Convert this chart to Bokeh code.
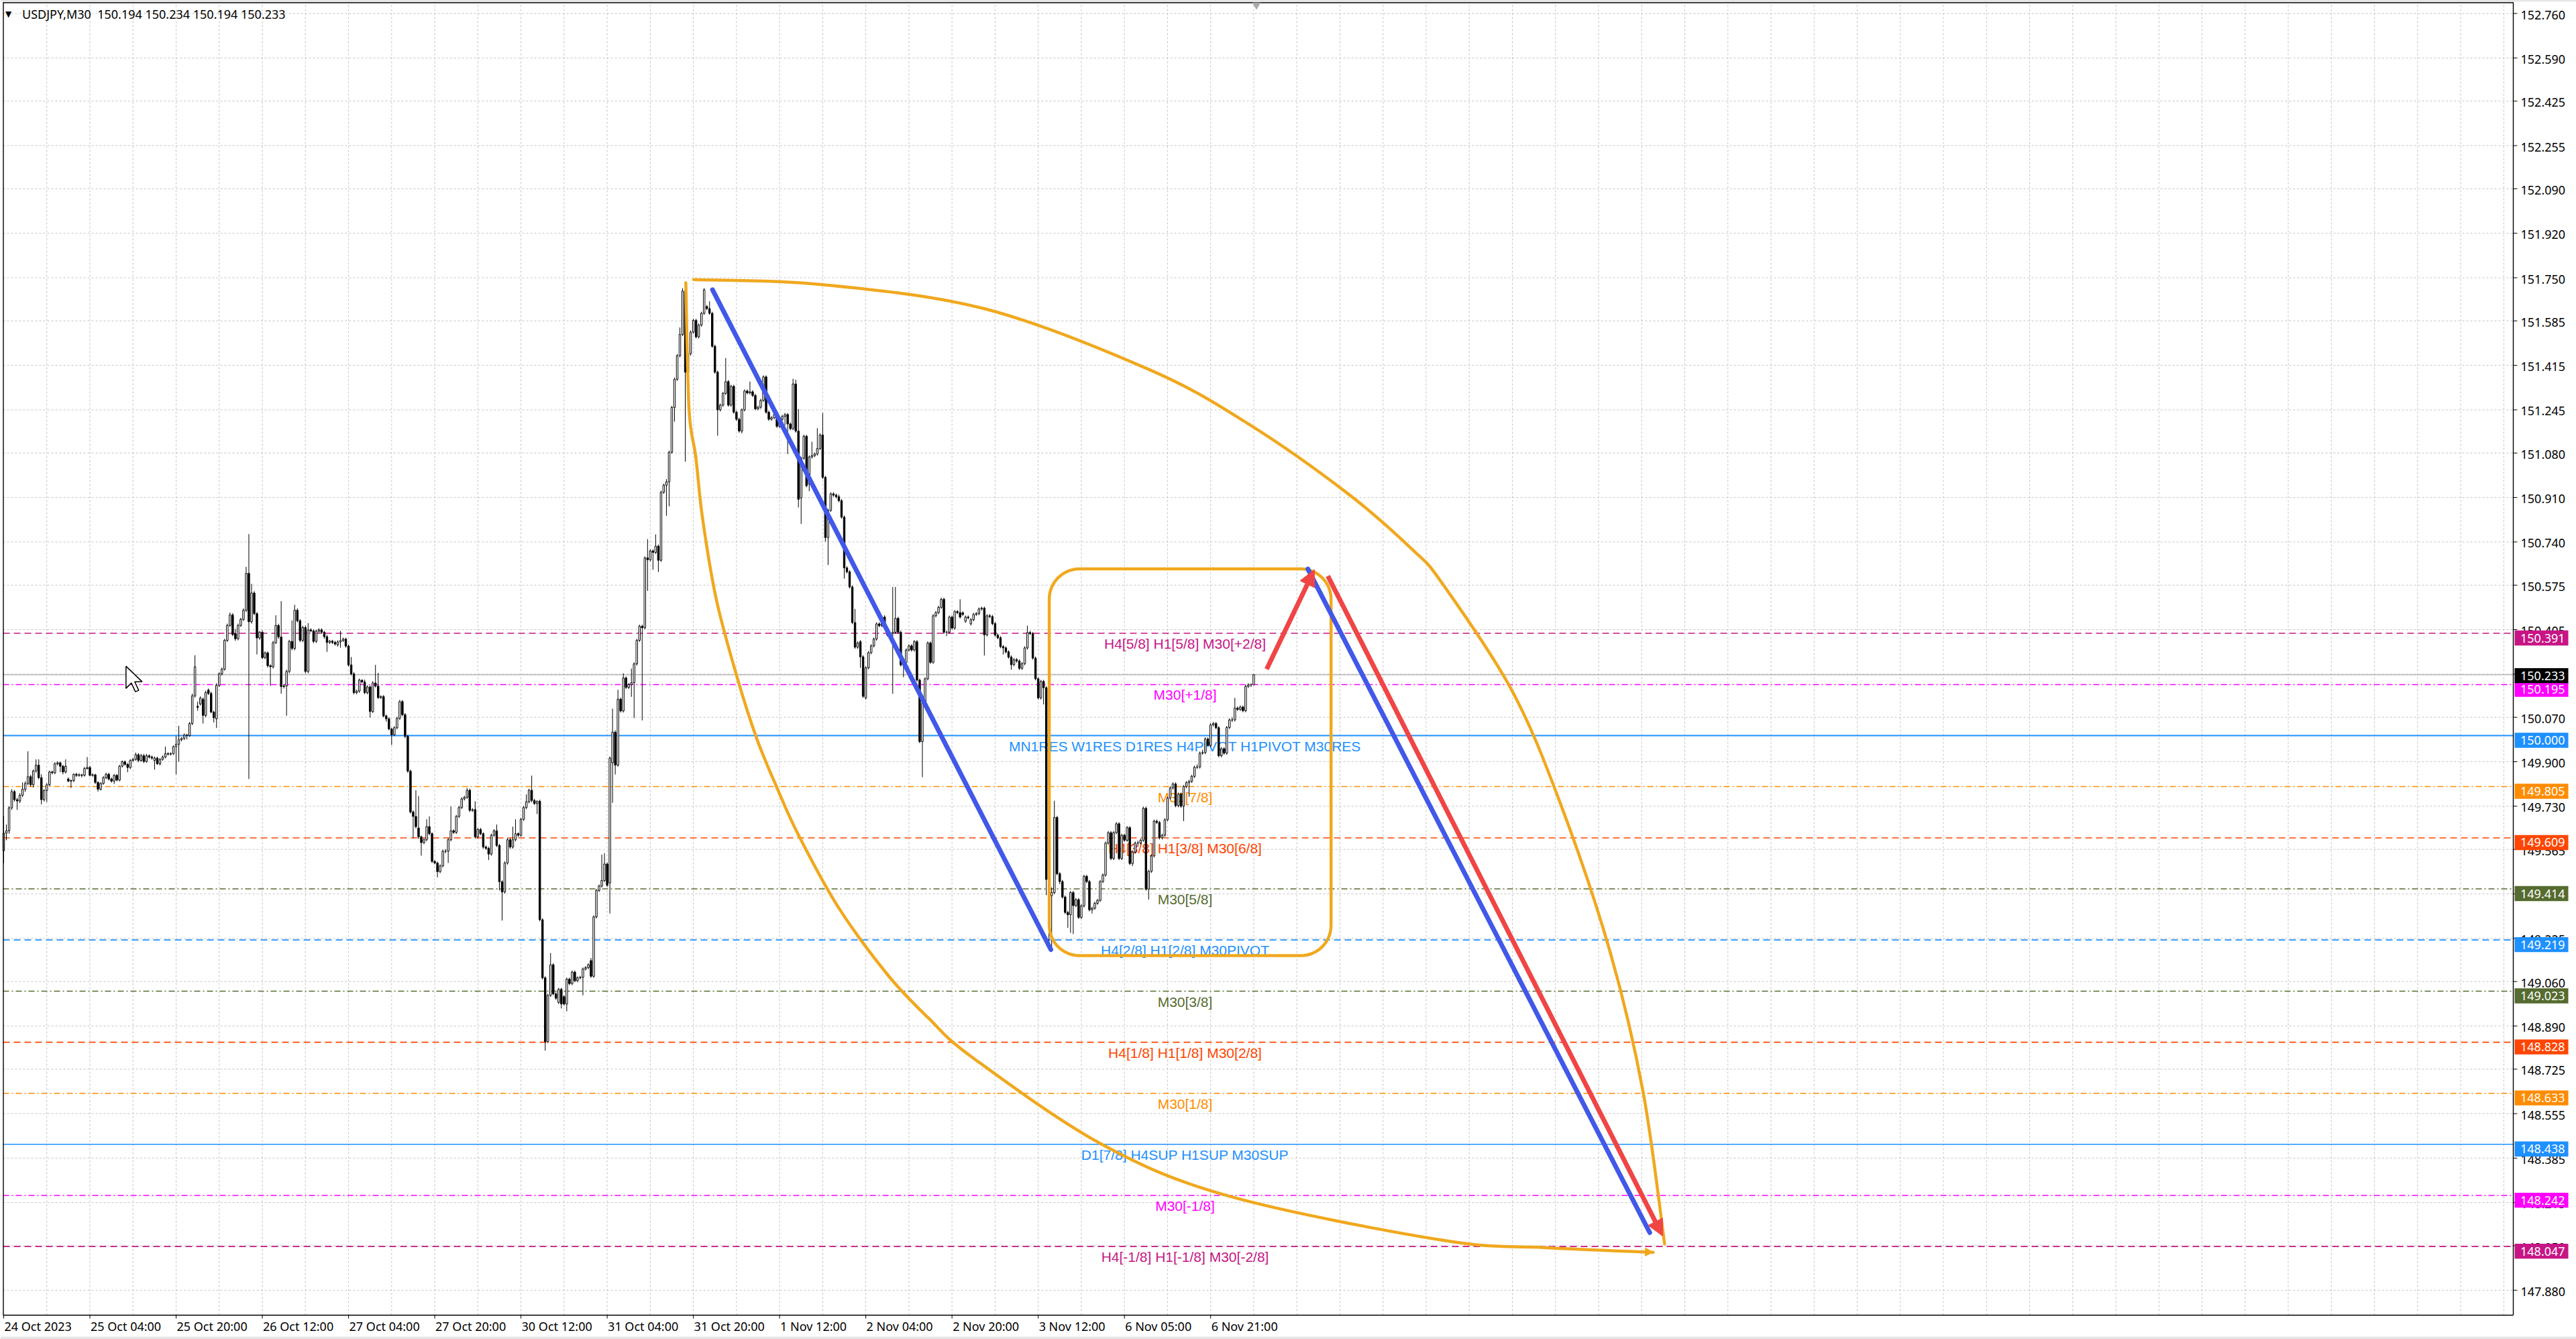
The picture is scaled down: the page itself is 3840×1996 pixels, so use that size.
import numpy as np
from bokeh.plotting import figure
from bokeh.models import Range1d, Arrow, NormalHead
from bokeh.core.properties import value
from bokeh.embed import file_html
from bokeh.resources import INLINE

title_text = "USDJPY,M30\u00a0 150.194 150.234 150.194 150.233"

opens = [
149.560,149.627,149.636,149.724,149.786,149.755,149.750,149.772,149.795,149.817,
149.843,149.812,149.865,149.887,149.839,149.755,149.790,149.812,149.861,149.858,
149.892,149.896,149.883,149.861,149.834,149.826,149.828,149.852,149.848,149.850,
149.848,149.874,149.878,149.848,149.850,149.821,149.795,149.817,149.839,149.852,
149.834,149.826,149.848,149.830,149.883,149.900,149.890,149.878,149.905,149.909,
149.927,149.905,149.923,149.901,149.923,149.918,149.905,149.914,149.892,149.909,
149.918,149.931,149.929,149.931,149.958,149.967,149.984,149.989,150.002,150.000,
150.046,150.152,150.112,150.121,150.139,150.077,150.174,150.161,150.090,150.064,
150.192,150.236,150.254,150.364,150.421,150.461,150.390,150.370,150.421,150.444,
150.479,150.620,150.435,150.545,150.466,150.373,150.395,150.298,150.316,150.267,
150.263,150.355,150.421,150.377,150.187,150.190,150.245,150.360,150.333,150.479,
150.439,150.364,150.413,150.245,150.404,150.400,150.360,150.399,150.404,150.395,
150.378,150.356,150.361,150.356,150.347,150.358,150.363,150.369,150.342,150.270,
150.236,150.164,150.170,150.212,150.205,150.164,150.186,150.092,150.201,150.189,
150.145,150.149,150.075,150.064,150.025,150.003,150.030,150.066,150.130,150.080,
149.997,149.864,149.708,149.691,149.647,149.613,149.591,149.602,149.652,149.625,
149.519,149.513,149.480,149.502,149.558,149.558,149.602,149.636,149.630,149.691,
149.725,149.758,149.764,149.791,149.714,149.717,149.613,149.641,149.625,149.574,
149.569,149.547,149.619,149.636,149.580,149.441,149.402,149.513,149.602,149.574,
149.602,149.625,149.619,149.680,149.725,149.747,149.791,149.752,149.740,149.749,
149.296,149.074,148.830,149.007,149.124,149.013,148.980,149.030,149.002,148.974,
149.069,149.052,149.096,149.063,149.074,149.076,149.108,149.113,149.140,149.080,
149.307,149.408,149.425,149.446,149.509,149.437,149.896,150.013,149.887,150.139,
150.094,150.220,150.184,150.195,150.202,150.274,150.364,150.418,150.412,150.679,
150.672,150.706,150.700,150.724,150.670,150.930,150.957,150.970,151.083,151.254,
151.362,151.452,151.533,151.699,151.389,151.460,151.542,151.587,151.524,151.569,
151.614,151.640,151.632,151.614,151.488,151.389,151.245,151.263,151.308,151.353,
151.263,151.335,151.236,151.209,151.164,151.245,151.317,151.310,151.314,151.300,
151.249,151.255,151.281,151.371,151.236,151.209,151.215,151.227,151.182,151.209,
151.220,151.227,151.191,151.173,151.344,151.164,150.908,151.060,151.144,150.961,
151.065,151.070,151.076,151.097,151.149,150.987,150.757,150.861,150.924,150.919,
150.913,150.898,150.835,150.641,150.626,150.568,150.432,150.338,150.359,150.301,
150.144,150.259,150.317,150.343,150.369,150.427,150.420,150.453,150.411,150.385,
150.390,150.395,150.448,150.395,150.270,150.280,150.327,150.343,150.327,150.359,
150.212,149.977,150.123,150.217,150.354,150.280,150.458,150.470,150.490,150.521,
150.395,150.395,150.453,150.411,150.474,150.470,150.469,150.437,150.453,150.427,
150.443,150.463,150.466,150.484,150.487,150.385,150.458,150.455,150.428,150.384,
150.374,150.340,150.335,150.320,150.300,150.271,150.290,150.285,150.257,150.275,
150.335,150.394,150.390,150.296,150.217,150.144,150.207,150.183,149.450,149.388,
149.400,149.687,149.472,149.442,149.383,149.324,149.315,149.400,149.350,149.373,
149.305,149.349,149.462,149.442,149.334,149.340,149.359,149.370,149.442,149.467,
149.589,149.629,149.530,149.629,149.663,149.530,149.619,149.600,149.648,149.511,
149.555,149.589,149.589,149.600,149.722,149.413,149.481,149.540,149.673,149.668,
149.609,149.619,149.678,149.761,149.800,149.815,149.732,149.776,149.730,149.805,
149.820,149.825,149.844,149.879,149.880,149.933,149.935,149.987,149.962,150.041,
150.046,150.030,149.923,149.950,149.933,150.031,150.060,150.060,150.105,150.100,
150.109,150.095,150.188,150.194,150.194]

closes = [
149.627,149.636,149.724,149.786,149.755,149.750,149.772,149.795,149.817,149.843,
149.812,149.865,149.887,149.839,149.755,149.790,149.812,149.861,149.858,149.892,
149.896,149.883,149.861,149.883,149.826,149.828,149.852,149.848,149.850,149.848,
149.874,149.878,149.848,149.850,149.821,149.795,149.817,149.839,149.852,149.834,
149.826,149.848,149.830,149.883,149.900,149.890,149.878,149.905,149.909,149.927,
149.905,149.923,149.901,149.923,149.918,149.914,149.914,149.892,149.909,149.918,
149.931,149.929,149.931,149.958,149.967,149.984,149.989,150.002,150.000,150.046,
150.152,150.263,150.108,150.143,150.077,150.165,150.161,150.090,150.068,150.192,
150.236,150.254,150.364,150.421,150.461,150.386,150.370,150.421,150.444,150.479,
150.620,150.435,150.545,150.466,150.373,150.395,150.298,150.316,150.267,150.263,
150.355,150.421,150.377,150.187,150.190,150.245,150.360,150.333,150.479,150.439,
150.364,150.413,150.245,150.404,150.400,150.360,150.399,150.404,150.395,150.378,
150.356,150.361,150.356,150.350,150.358,150.363,150.369,150.342,150.270,150.236,
150.164,150.170,150.212,150.205,150.164,150.186,150.092,150.201,150.189,150.145,
150.149,150.075,150.064,150.025,150.003,150.030,150.066,150.130,150.080,149.997,
149.864,149.708,149.691,149.652,149.613,149.591,149.602,149.652,149.625,149.519,
149.513,149.480,149.502,149.558,149.558,149.602,149.636,149.630,149.691,149.725,
149.758,149.764,149.791,149.714,149.717,149.613,149.641,149.625,149.574,149.569,
149.547,149.619,149.636,149.580,149.441,149.402,149.513,149.602,149.574,149.602,
149.625,149.619,149.680,149.725,149.747,149.791,149.752,149.740,149.749,149.296,
149.074,148.830,149.007,149.124,149.013,148.996,149.030,148.974,148.974,149.069,
149.052,149.096,149.063,149.074,149.076,149.108,149.113,149.124,149.080,149.307,
149.408,149.425,149.446,149.509,149.428,149.914,150.013,149.887,150.139,150.094,
150.220,150.184,150.195,150.202,150.274,150.364,150.418,150.412,150.679,150.672,
150.706,150.700,150.724,150.670,150.930,150.957,150.970,151.083,151.254,151.362,
151.452,151.533,151.699,151.389,151.460,151.542,151.587,151.524,151.569,151.614,
151.704,151.632,151.614,151.488,151.389,151.245,151.263,151.308,151.353,151.263,
151.335,151.236,151.209,151.164,151.245,151.317,151.310,151.314,151.300,151.249,
151.255,151.281,151.371,151.236,151.209,151.215,151.227,151.182,151.209,151.220,
151.227,151.191,151.173,151.344,151.164,150.903,151.060,151.144,150.955,151.065,
151.070,151.076,151.097,151.149,150.987,150.757,150.861,150.924,150.919,150.913,
150.898,150.835,150.641,150.626,150.568,150.432,150.338,150.354,150.301,150.150,
150.259,150.317,150.343,150.369,150.427,150.420,150.453,150.411,150.385,150.390,
150.395,150.448,150.395,150.270,150.280,150.327,150.343,150.327,150.359,150.212,
149.977,150.123,150.217,150.354,150.280,150.458,150.470,150.490,150.521,150.395,
150.395,150.453,150.411,150.474,150.470,150.453,150.463,150.453,150.450,150.443,
150.463,150.466,150.484,150.487,150.385,150.458,150.455,150.428,150.384,150.374,
150.340,150.335,150.320,150.300,150.271,150.290,150.285,150.257,150.275,150.335,
150.394,150.390,150.296,150.217,150.144,150.207,150.183,149.450,149.388,149.400,
149.687,149.472,149.442,149.383,149.324,149.315,149.400,149.350,149.373,149.305,
149.349,149.462,149.442,149.334,149.340,149.359,149.370,149.442,149.467,149.589,
149.629,149.530,149.629,149.663,149.530,149.619,149.600,149.648,149.511,149.555,
149.589,149.589,149.600,149.722,149.413,149.481,149.540,149.673,149.668,149.609,
149.619,149.678,149.761,149.800,149.815,149.732,149.776,149.730,149.805,149.820,
149.825,149.844,149.879,149.880,149.933,149.935,149.987,149.962,150.041,150.046,
150.030,149.923,149.950,149.933,150.031,150.060,150.060,150.105,150.100,150.109,
150.095,150.188,150.194,150.194,150.233]

highs = [
149.693,149.660,149.730,149.795,149.792,149.762,149.780,149.821,149.825,149.940,
149.850,149.870,149.909,149.909,149.852,149.795,149.818,149.866,149.866,149.898,
149.902,149.900,149.888,149.909,149.840,149.832,149.856,149.858,149.856,149.854,
149.880,149.918,149.884,149.856,149.854,149.825,149.822,149.845,149.858,149.858,
149.840,149.853,149.853,149.888,149.905,149.905,149.895,149.910,149.915,149.935,
149.933,149.930,149.930,149.930,149.928,149.924,149.920,149.919,149.914,149.924,
149.958,149.936,149.936,149.962,149.998,150.037,149.994,150.008,150.006,150.052,
150.160,150.307,150.130,150.150,150.146,150.172,150.180,150.168,150.095,150.200,
150.242,150.260,150.370,150.428,150.470,150.468,150.408,150.428,150.450,150.486,
150.645,150.770,150.580,150.552,150.472,150.400,150.402,150.322,150.322,150.272,
150.362,150.460,150.428,150.514,150.196,150.252,150.366,150.440,150.500,150.486,
150.445,150.420,150.420,150.430,150.410,150.406,150.405,150.410,150.410,150.400,
150.385,150.366,150.366,150.362,150.364,150.400,150.374,150.374,150.348,150.300,
150.242,150.176,150.218,150.214,150.214,150.192,150.192,150.208,150.270,150.240,
150.154,150.155,150.080,150.070,150.030,150.036,150.072,150.136,150.136,150.086,
150.003,149.870,149.714,149.791,149.769,149.618,149.608,149.680,149.691,149.630,
149.524,149.518,149.508,149.564,149.566,149.608,149.729,149.642,149.697,149.731,
149.764,149.770,149.800,149.797,149.722,149.749,149.647,149.647,149.630,149.580,
149.575,149.625,149.642,149.660,149.586,149.447,149.519,149.608,149.608,149.652,
149.680,149.630,149.686,149.731,149.775,149.797,149.847,149.758,149.752,149.755,
149.302,149.080,149.013,149.169,149.130,149.019,149.036,149.036,149.008,149.075,
149.075,149.102,149.102,149.080,149.082,149.114,149.119,149.130,149.150,149.313,
149.414,149.431,149.545,149.550,149.515,149.920,150.103,150.020,150.175,150.145,
150.238,150.226,150.201,150.256,150.280,150.370,150.424,150.424,150.685,150.751,
150.712,150.712,150.769,150.730,150.936,150.963,150.980,151.089,151.260,151.368,
151.458,151.560,151.710,151.722,151.470,151.548,151.593,151.593,151.575,151.620,
151.710,151.646,151.660,151.620,151.494,151.395,151.269,151.314,151.443,151.359,
151.341,151.341,151.242,151.215,151.251,151.323,151.323,151.353,151.320,151.306,
151.261,151.287,151.377,151.377,151.242,151.221,151.233,151.233,151.215,151.226,
151.233,151.233,151.197,151.364,151.360,151.248,151.066,151.150,151.150,151.071,
151.123,151.082,151.175,151.155,151.233,150.993,150.867,150.930,150.930,150.925,
150.921,150.904,150.841,150.647,150.632,150.574,150.484,150.360,150.365,150.307,
150.265,150.323,150.349,150.375,150.433,150.433,150.459,150.460,150.417,150.396,
150.568,150.568,150.454,150.401,150.291,150.333,150.349,150.349,150.365,150.365,
150.218,150.129,150.223,150.360,150.360,150.464,150.476,150.496,150.527,150.527,
150.401,150.459,150.459,150.480,150.480,150.521,150.475,150.459,150.459,150.449,
150.469,150.472,150.490,150.493,150.493,150.464,150.464,150.461,150.434,150.390,
150.380,150.346,150.341,150.326,150.306,150.296,150.296,150.291,150.281,150.341,
150.420,150.400,150.396,150.302,150.223,150.213,150.213,150.189,149.521,149.420,
149.751,149.693,149.478,149.448,149.389,149.330,149.406,149.406,149.379,149.379,
149.355,149.468,149.468,149.448,149.346,149.365,149.376,149.448,149.473,149.595,
149.635,149.635,149.635,149.669,149.669,149.625,149.625,149.654,149.654,149.561,
149.595,149.598,149.606,149.728,149.728,149.487,149.546,149.679,149.679,149.674,
149.625,149.684,149.767,149.806,149.821,149.821,149.782,149.782,149.811,149.826,
149.831,149.850,149.885,149.890,149.939,149.945,149.993,149.993,150.047,150.052,
150.052,150.036,149.956,149.956,150.037,150.066,150.070,150.144,150.111,150.115,
150.115,150.194,150.200,150.200,150.234]

lows = [
149.512,149.600,149.625,149.716,149.748,149.716,149.742,149.765,149.785,149.810,
149.805,149.802,149.858,149.833,149.737,149.748,149.746,149.806,149.852,149.852,
149.886,149.860,149.852,149.855,149.822,149.800,149.822,149.842,149.843,149.840,
149.843,149.870,149.844,149.843,149.815,149.786,149.790,149.812,149.833,149.828,
149.820,149.815,149.825,149.825,149.878,149.885,149.860,149.872,149.900,149.904,
149.898,149.900,149.895,149.896,149.912,149.908,149.870,149.888,149.886,149.904,
149.913,149.924,149.924,149.926,149.852,149.900,149.978,149.983,149.985,149.995,
150.040,150.145,150.095,150.115,150.046,150.070,150.155,150.085,150.050,150.029,
150.186,150.230,150.248,150.358,150.415,150.380,150.362,150.364,150.415,150.438,
150.472,149.834,150.428,150.460,150.310,150.366,150.292,150.292,150.260,150.190,
150.256,150.350,150.370,150.160,150.180,150.076,150.238,150.326,150.326,150.432,
150.357,150.357,150.238,150.238,150.395,150.353,150.354,150.392,150.388,150.370,
150.320,150.350,150.350,150.344,150.340,150.336,150.358,150.336,150.264,150.230,
150.158,150.158,150.164,150.200,150.158,150.158,150.069,150.086,150.184,150.140,
150.140,150.070,150.053,150.020,149.964,149.998,150.024,150.060,150.074,149.990,
149.858,149.702,149.608,149.645,149.605,149.541,149.585,149.596,149.619,149.513,
149.508,149.458,149.474,149.496,149.550,149.513,149.596,149.624,149.624,149.685,
149.719,149.752,149.758,149.708,149.708,149.607,149.607,149.619,149.568,149.563,
149.524,149.541,149.613,149.574,149.408,149.293,149.396,149.507,149.568,149.568,
149.596,149.613,149.613,149.674,149.719,149.741,149.745,149.735,149.700,149.290,
149.068,148.796,148.824,149.001,149.007,148.990,148.974,148.957,148.968,148.946,
149.046,149.046,149.057,149.057,149.068,149.007,149.102,149.107,149.074,149.074,
149.301,149.402,149.419,149.440,149.422,149.320,149.743,149.851,149.881,150.088,
150.088,150.178,150.178,150.148,150.067,150.268,150.358,150.058,150.406,150.553,
150.666,150.634,150.694,150.625,150.664,150.924,150.840,150.876,151.077,151.200,
151.356,151.446,151.527,151.047,151.370,151.452,151.536,151.518,151.518,151.563,
151.608,151.626,151.608,151.482,151.383,151.146,151.239,151.257,151.302,151.257,
151.257,151.230,151.203,151.158,151.155,151.239,151.304,151.304,151.294,151.243,
151.243,151.249,151.275,151.230,151.203,151.203,151.209,151.176,151.176,151.203,
151.185,151.076,151.167,151.167,151.158,150.872,150.809,151.054,150.949,150.934,
151.059,151.064,151.070,151.091,150.981,150.741,150.652,150.855,150.913,150.907,
150.892,150.829,150.600,150.620,150.562,150.426,150.332,150.332,150.259,150.144,
150.138,150.253,150.311,150.337,150.363,150.414,150.414,150.405,150.379,150.379,
150.160,150.389,150.389,150.264,150.223,150.274,150.321,150.321,150.321,150.206,
149.971,149.841,150.117,150.211,150.274,150.274,150.452,150.464,150.484,150.389,
150.380,150.389,150.405,150.405,150.464,150.447,150.457,150.431,150.444,150.421,
150.437,150.457,150.460,150.478,150.306,150.379,150.449,150.422,150.378,150.368,
150.334,150.310,150.314,150.294,150.252,150.265,150.279,150.251,150.251,150.269,
150.329,150.384,150.290,150.211,150.138,150.138,150.119,149.390,149.200,149.190,
149.394,149.466,149.432,149.377,149.318,149.265,149.246,149.241,149.344,149.299,
149.299,149.343,149.436,149.328,149.320,149.334,149.353,149.364,149.436,149.461,
149.583,149.524,149.524,149.623,149.524,149.524,149.594,149.594,149.505,149.501,
149.549,149.575,149.583,149.594,149.407,149.373,149.475,149.534,149.662,149.603,
149.603,149.613,149.672,149.755,149.794,149.726,149.726,149.724,149.673,149.799,
149.766,149.819,149.838,149.873,149.874,149.927,149.929,149.956,149.956,150.035,
150.024,149.917,149.917,149.927,149.927,150.025,150.052,150.054,150.094,150.094,
150.089,150.089,150.182,150.186,150.194]

y_ticks = [152.760, 152.590, 152.425, 152.255, 152.090, 151.920, 151.750, 151.585,
           151.415, 151.245, 151.080, 150.910, 150.740, 150.575, 150.405, 150.235,
           150.070, 149.900, 149.730, 149.565, 149.395, 149.225, 149.060, 148.890,
           148.725, 148.555, 148.385, 148.215, 148.050, 147.880]

x_tick_idx = [0, 32, 64, 96, 128, 160, 192, 224, 256, 288, 320, 352, 384, 416, 448]
x_tick_text = ["24 Oct 2023", "25 Oct 04:00", "25 Oct 20:00", "26 Oct 12:00", "27 Oct 04:00",
               "27 Oct 20:00", "30 Oct 12:00", "31 Oct 04:00", "31 Oct 20:00", "1 Nov 12:00",
               "2 Nov 04:00", "2 Nov 20:00", "3 Nov 12:00", "6 Nov 05:00", "6 Nov 21:00"]
grid_step = 16

levels = [150.391, 150.195, 150.000, 149.805, 149.609, 149.414, 149.219,
          149.023, 148.828, 148.633, 148.438, 148.242, 148.047]
level_names = ["H4[5/8] H1[5/8] M30[+2/8]", "M30[+1/8]",
               "MN1RES W1RES D1RES H4PIVOT H1PIVOT M30RES", "M30[7/8]",
               "H4[3/8] H1[3/8] M30[6/8]", "M30[5/8]", "H4[2/8] H1[2/8] M30PIVOT",
               "M30[3/8]", "H4[1/8] H1[1/8] M30[2/8]", "M30[1/8]",
               "D1[7/8] H4SUP H1SUP M30SUP", "M30[-1/8]", "H4[-1/8] H1[-1/8] M30[-2/8]"]
level_colors = ["#C71585", "#FF00FF", "#1E90FF", "#FF8C00", "#FF4500", "#556B2F", "#1E90FF",
                "#556B2F", "#FF4500", "#FF8C00", "#1E90FF", "#FF00FF", "#C71585"]
level_dash = ["10 6", "9 4 2 4", "solid", "9 4 2 4", "10 6", "9 4 2 4", "10 6",
              "9 4 2 4", "10 6", "9 4 2 4", "solid", "9 4 2 4", "10 6"]
level_width = [1.6, 1.5, 2.2, 1.5, 1.6, 1.5, 1.6, 1.5, 1.6, 1.5, 1.4, 1.5, 1.6]
level_label_x = 438.5

last_price = 150.233
shift_marker_bar = 465
cursor_tip = (45.4, 150.265)

blue_lines = [((263.1, 151.704), (388.7, 149.182)), ((484.1, 150.637), (611.0, 148.100))]
red_arrows = [((468.8, 150.254), (486.5, 150.634)), ((491.5, 150.610), (615.8, 148.087))]

box_left, box_right, box_top, box_bottom = 388.1, 492.7, 150.637, 149.159

lower_curve_x = [253.2, 254.4, 256.9, 259.4, 264.4, 271.8, 279.3, 286.8, 295.1, 309.8,
                 328.1, 343.3, 359.8, 407.6, 455.4, 534.1, 571.5, 612.3]
lower_curve_y = [151.731, 151.246, 151.065, 150.831, 150.526, 150.238, 149.995, 149.806,
                 149.618, 149.344, 149.086, 148.920, 148.768, 148.438, 148.238, 148.071,
                 148.043, 148.025]
upper_curve_x = [256.1, 303.7, 364.6, 425.6, 462.2, 498.8, 523.2, 534.1, 559.8, 578.1,
                 596.4, 608.6, 616.5]
upper_curve_y = [151.743, 151.724, 151.630, 151.397, 151.190, 150.926, 150.708, 150.580,
                 150.173, 149.733, 149.169, 148.634, 148.057]

# ---------------------------------------------------------------
# pixel geometry of the screenshot (the page is drawn from its top-left corner)
W, H = 3840, 1996
sx, sy = 4.016, 390.0                 # px per bar, px per yen
BAR0_PX = 5.0                         # page x of bar 0
REF_PX, REF_PRICE = 19.6, 152.760     # page y of a known price

def bx_(px):
    return (px - BAR0_PX) / sx

def py_(py):
    return REF_PRICE - (py - REF_PX) / sy

XL, XR = bx_(0), bx_(W)
YTOP, YBOT = py_(0), py_(H)
XA, XB = bx_(4), bx_(3746)           # chart area
YT, YB = py_(3), py_(1960)

ORANGE = "#F0A81E"
BLUE = "#4158E8"
RED = "#F04545"
GRID = "#C4C4C4"
FONT = "Noto Sans"

p = figure(frame_width=W, frame_height=H, x_range=Range1d(XL, XR), y_range=Range1d(YBOT, YTOP),
           x_axis_location=None, y_axis_location=None, min_border=0,
           output_backend="svg", toolbar_location=None,
           background_fill_color="white", border_fill_color="white")
p.outline_line_color = None
p.grid.visible = False


def smooth_segments(xs, ys):
    """Catmull-Rom through the read points, as cubic Bezier pieces (in pixel space)."""
    P = np.column_stack([np.asarray(xs) * sx, np.asarray(ys) * sy])
    n = len(P)
    seg = {k: [] for k in ("x0", "y0", "x1", "y1", "cx0", "cy0", "cx1", "cy1")}
    for k in range(n - 1):
        p0 = P[k - 1] if k > 0 else P[k]
        p1, p2 = P[k], P[k + 1]
        p3 = P[k + 2] if k + 2 < n else P[k + 1]
        c1 = p1 + (p2 - p0) / 6.0
        c2 = p2 - (p3 - p1) / 6.0
        for key, pt in (("x0", p1[0] / sx), ("y0", p1[1] / sy), ("x1", p2[0] / sx),
                        ("y1", p2[1] / sy), ("cx0", c1[0] / sx), ("cy0", c1[1] / sy),
                        ("cx1", c2[0] / sx), ("cy1", c2[1] / sy)):
            seg[key].append(pt)
    return seg


# thin grey window edges of the screenshot
p.quad(left=[XL, XL], right=[XR, XR], top=[YTOP, py_(1992)], bottom=[py_(1.5), YBOT],
       fill_color=["#D0D0D0", "#E6E6E6"], line_color=None)

# grid
gx = [g for g in range(grid_step, int(XB) + 1, grid_step) if g < XB]
p.segment(x0=gx, y0=[YB] * len(gx), x1=gx, y1=[YT] * len(gx),
          line_color=GRID, line_dash="3 3", line_width=1)
p.segment(x0=[XA] * len(y_ticks), y0=y_ticks, x1=[XB] * len(y_ticks), y1=y_ticks,
          line_color=GRID, line_dash="3 3", line_width=1)

# level lines
p.segment(x0=[XA], y0=[last_price], x1=[XB], y1=[last_price], line_color="#B8B8B8", line_width=1.5)
for lv, col, dsh, lw in zip(levels, level_colors, level_dash, level_width):
    p.segment(x0=[XA], y0=[lv], x1=[XB], y1=[lv], line_color=col, line_dash=dsh, line_width=lw)

# level names
p.text(x=[level_label_x] * len(levels), y=levels, text=level_names, text_color=level_colors,
       text_align="center", text_baseline="top", y_offset=4,
       text_font=value("Liberation Sans"), text_font_size="21px")

# candles
o = np.array(opens); c = np.array(closes); h = np.array(highs); l = np.array(lows)
idx = np.arange(len(c))
bull = c >= o
p.segment(x0=idx, y0=h, x1=idx, y1=l, line_color="black", line_width=1)
p.vbar(x=idx[bull], width=0.6, top=c[bull], bottom=o[bull], fill_color="white",
       line_color="black", line_width=1)
p.vbar(x=idx[~bull], width=0.6, top=o[~bull], bottom=c[~bull], fill_color="black",
       line_color="black", line_width=1)

# orange rounded rectangle
rad = 45.0
rx, ry = rad / sx, rad / sy
t = np.linspace(0, np.pi / 2, 16)
cx = [box_right - rx, box_left + rx, box_left + rx, box_right - rx]
cy = [box_top - ry, box_top - ry, box_bottom + ry, box_bottom + ry]
rbx, rby = [], []
for k in range(4):
    tt = t + k * np.pi / 2
    rbx.extend(cx[k] + rx * np.cos(tt)); rby.extend(cy[k] + ry * np.sin(tt))
rbx.append(rbx[0]); rby.append(rby[0])
p.line(rbx, rby, line_color=ORANGE, line_width=4.5)

# orange curves (smooth)
for xs_, ys_ in ((lower_curve_x, lower_curve_y), (upper_curve_x, upper_curve_y)):
    sg = smooth_segments(xs_, ys_)
    p.bezier(x0=sg["x0"], y0=sg["y0"], x1=sg["x1"], y1=sg["y1"],
             cx0=sg["cx0"], cy0=sg["cy0"], cx1=sg["cx1"], cy1=sg["cy1"],
             line_color=ORANGE, line_width=4.5, line_cap="round")
p.add_layout(Arrow(end=NormalHead(size=12, fill_color=ORANGE, line_color=ORANGE),
                   x_start=lower_curve_x[-2], y_start=lower_curve_y[-2],
                   x_end=lower_curve_x[-1], y_end=lower_curve_y[-1],
                   line_color=ORANGE, line_width=2))

# blue lines
for (a, b) in blue_lines:
    p.line([a[0], b[0]], [a[1], b[1]], line_color=BLUE, line_width=7, line_cap="round")

# red arrows
for (a, b) in red_arrows:
    p.add_layout(Arrow(end=NormalHead(size=24, fill_color=RED, line_color=RED),
                       x_start=a[0], y_start=a[1], x_end=b[0], y_end=b[1],
                       line_color=RED, line_width=7))

# mouse pointer seen in the screenshot
ptr = [(0, 0), (0, 33), (8, 25), (14, 38), (19, 36), (13, 23), (24, 23)]
p.patch([cursor_tip[0] + dx / sx for dx, dy in ptr], [cursor_tip[1] - dy / sy for dx, dy in ptr],
        fill_color="white", line_color="black", line_width=1.5)

# chart border and axis lines
p.segment(x0=[bx_(4.5), XA, XB, XA], y0=[YB, py_(3.5), YB, YB],
          x1=[bx_(4.5), XB, XB, XB], y1=[YT, py_(3.5), YT, YB],
          line_color="black", line_width=1.4)

# chart-shift marker at the top
p.scatter(x=[shift_marker_bar], y=[py_(7)], marker="inverted_triangle", size=11,
          fill_color="#A8A8A8", line_color="#A8A8A8")

# right price scale: ticks and labels
p.segment(x0=[XB] * len(y_ticks), y0=y_ticks, x1=[XB + 6 / sx] * len(y_ticks), y1=y_ticks,
          line_color="black", line_width=1)
p.text(x=[XB + 11 / sx] * len(y_ticks), y=y_ticks, text=["%.3f" % v for v in y_ticks],
       text_align="left", text_baseline="middle", y_offset=2, text_color="black",
       text_font=value(FONT), text_font_size="18px")

# time scale: ticks and labels
p.segment(x0=x_tick_idx, y0=[YB] * len(x_tick_idx), x1=x_tick_idx,
          y1=[YB - 5 / sy] * len(x_tick_idx), line_color="black", line_width=1)
p.text(x=[v + 1 / sx for v in x_tick_idx], y=[YB] * len(x_tick_idx), text=x_tick_text,
       text_align="left", text_baseline="middle", y_offset=16, text_color="black",
       text_font=value(FONT), text_font_size="18px")

# price boxes on the scale
box_prices = levels + [last_price]
box_colors = level_colors + ["black"]
box_shift = [7.0] * len(levels) + [1.5]
bc = [pr - s / sy for pr, s in zip(box_prices, box_shift)]
p.quad(left=[XB + 2 / sx] * len(bc), right=[XB + 82 / sx] * len(bc),
       top=[v + 11.2 / sy for v in bc], bottom=[v - 11.2 / sy for v in bc],
       fill_color=box_colors, line_color=None)
p.text(x=[XB + 10.5 / sx] * len(bc), y=bc, text=["%.3f" % v for v in box_prices],
       text_align="left", text_baseline="middle", text_color="white",
       text_font=value(FONT), text_font_size="18px")

# title
p.text(x=[bx_(12)], y=[py_(20.7)], text=["\u25bc"], text_color="black", text_align="center",
       text_baseline="middle", text_font=value("DejaVu Sans"), text_font_size="12px")
p.text(x=[bx_(32.5)], y=[py_(20.7)], text=[title_text], text_color="black", text_align="left",
       text_baseline="middle", text_font=value(FONT), text_font_size="18px")

open("out.html", "w").write(file_html(p, INLINE))
